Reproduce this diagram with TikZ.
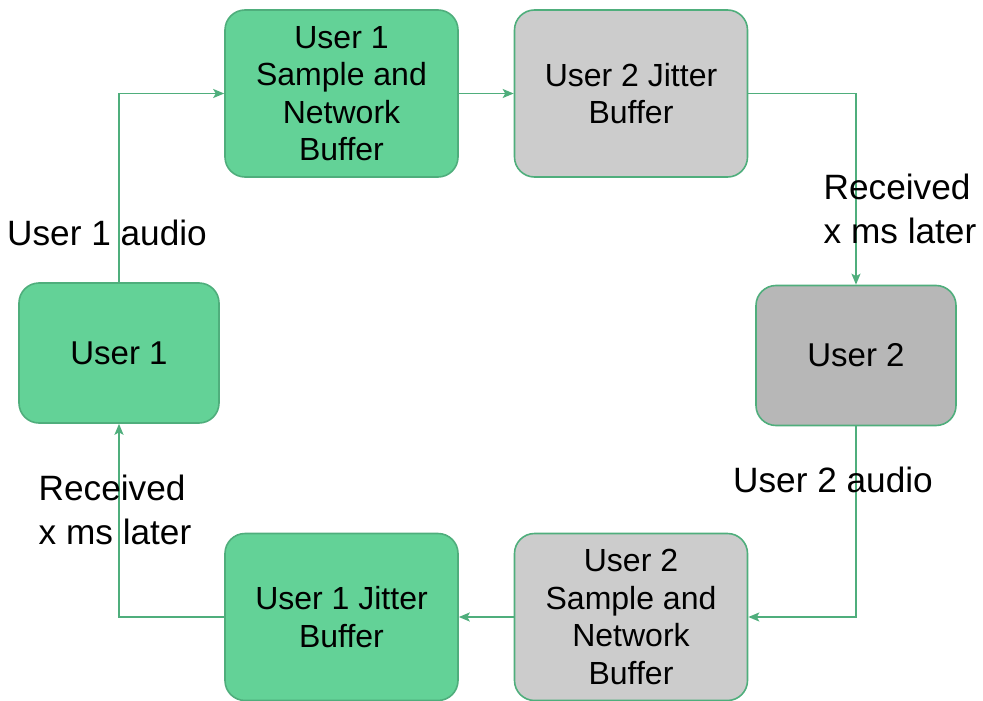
\documentclass[tikz,border=0pt]{standalone}
\usepackage{fontspec}
\setmainfont{Liberation Sans}
\usetikzlibrary{arrows.meta}
\definecolor{gfill}{HTML}{63D297}
\definecolor{gline}{HTML}{4FAE7C}
\definecolor{lgray}{HTML}{CCCCCC}
\definecolor{dgray}{HTML}{B7B7B7}
\begin{document}
\begin{tikzpicture}[x=1pt,y=-1pt,
  box/.style={draw=gline,line width=1.6pt,rounded corners=20pt,align=center,
    font=\fontsize{32}{37.5}\selectfont,inner sep=0pt},
  smallbox/.style={box,minimum width=200pt,minimum height=140pt},
  bigbox/.style={box,minimum width=233pt,minimum height=167pt},
  conn/.style={draw=gline,line width=1.8pt,-{Stealth[length=11pt,width=9pt,inset=2.5pt]}},
  lbl/.style={font=\fontsize{35.2}{44}\selectfont,align=left,inner sep=0pt}]
\useasboundingbox (0,0) rectangle (983,701);
\node[smallbox,fill=gfill] (u1) at (119,353) {\fontsize{33}{38}\selectfont User 1};
\node[bigbox,fill=gfill] (u1s) at (341.5,93.5) {User 1\\Sample and\\Network\\Buffer};
\node[bigbox,fill=lgray] (u2j) at (631,93.5) {User 2 Jitter\\Buffer};
\node[smallbox,fill=dgray] (u2) at (856,355.5) {\fontsize{33}{38}\selectfont User 2};
\node[bigbox,fill=lgray] (u2s) at (631,617) {User 2\\Sample and\\Network\\Buffer};
\node[bigbox,fill=gfill] (u1j) at (341.5,617) {User 1 Jitter\\Buffer};
\coordinate (c1) at (119,93.5);
\coordinate (c2) at (856,93.5);
\coordinate (c3) at (856,617);
\coordinate (c4) at (119,617);
\draw[conn] (u1.north) -- (c1) -- (u1s.west);
\draw[conn] (u1s.east) -- (u2j.west);
\draw[conn] (u2j.east) -- (c2) -- (u2.north);
\draw[conn] (u2.south) -- (c3) -- (u2s.east);
\draw[conn] (u2s.west) -- (u1j.east);
\draw[conn] (u1j.west) -- (c4) -- (u1.south);
\node[lbl] (l1) at (107,233) {User 1 audio};
\node[lbl] (l2) at (900,209) {Received\\x ms later};
\node[lbl] (l3) at (833,480) {User 2 audio};
\node[lbl] (l4) at (115,510) {Received\\x ms later};
\end{tikzpicture}
\end{document}
